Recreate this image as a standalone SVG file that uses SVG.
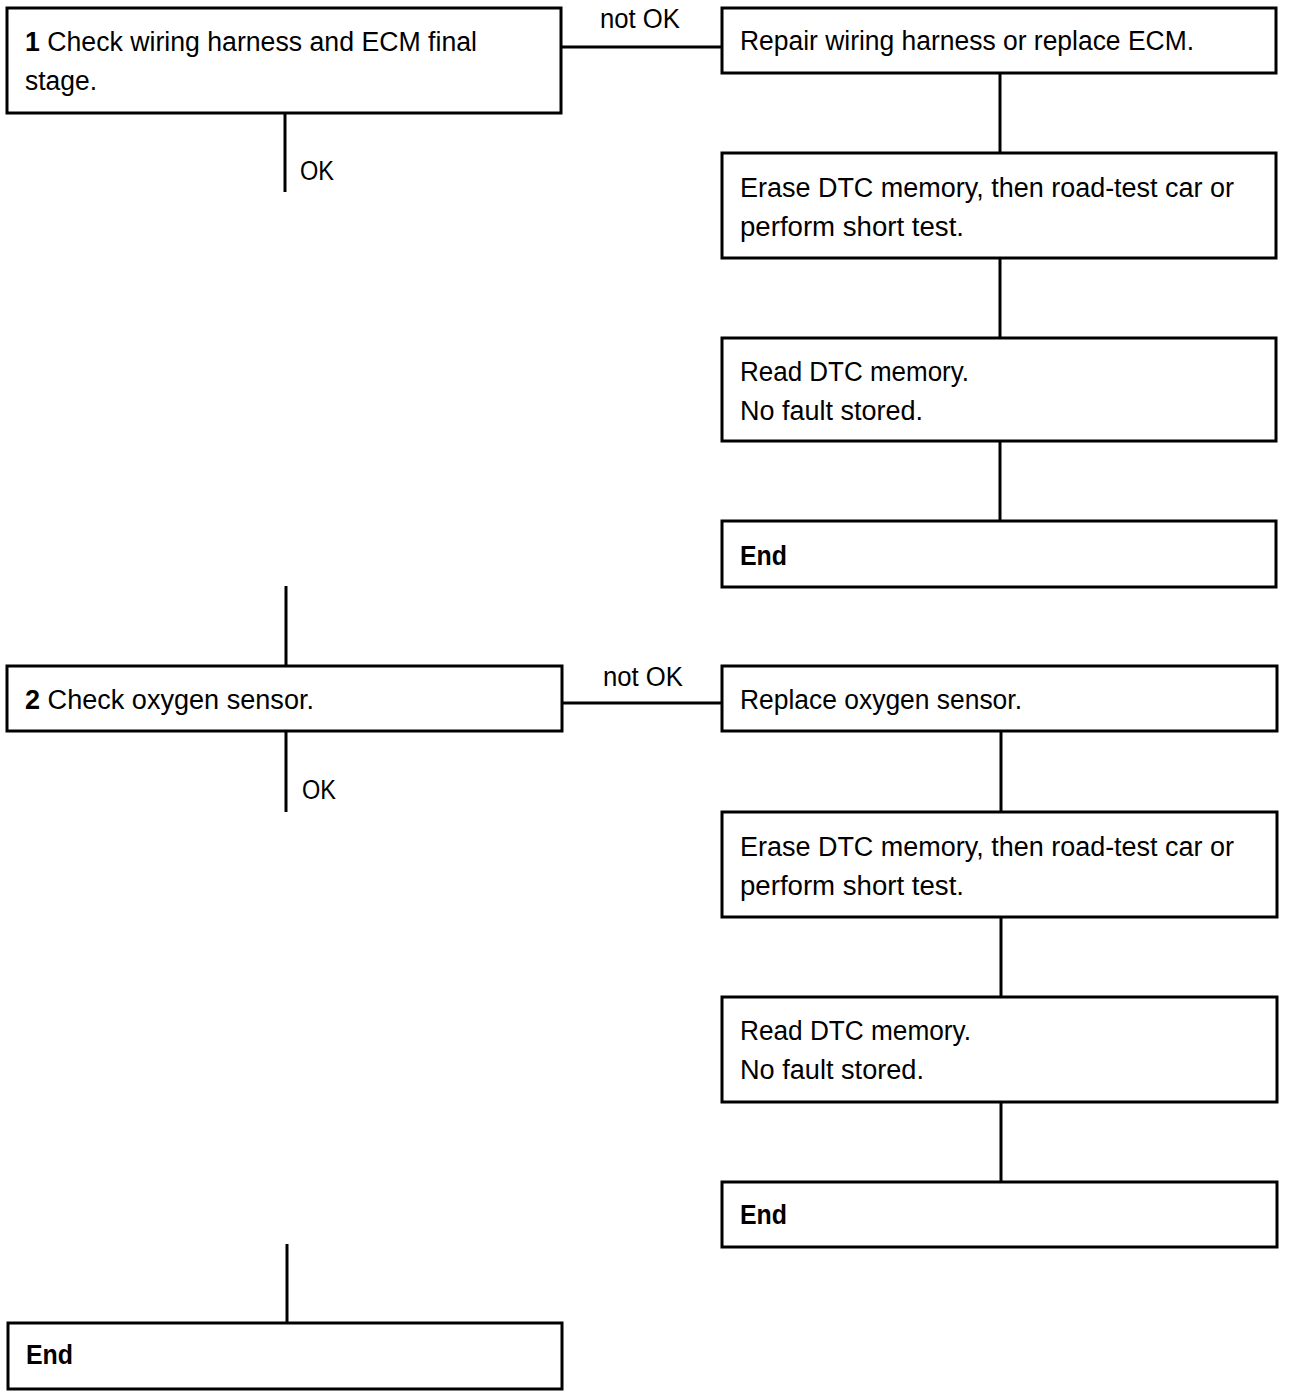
<svg xmlns="http://www.w3.org/2000/svg" width="1296" height="1396" viewBox="0 0 1296 1396">
<style>
.box{fill:#fff;stroke:#000;stroke-width:3}
.ln{stroke:#000;stroke-width:3;fill:none}
text{font-family:"Liberation Sans",Arial,sans-serif;font-size:27px;fill:#000}
.b{font-weight:bold}
</style>
<rect width="1296" height="1396" fill="#fff"/>
<g id="connectors">
<line class="ln" x1="285" y1="113" x2="285" y2="192"/>
<line class="ln" x1="561" y1="47" x2="722" y2="47"/>
<line class="ln" x1="1000" y1="73" x2="1000" y2="153"/>
<line class="ln" x1="1000" y1="258" x2="1000" y2="338"/>
<line class="ln" x1="1000" y1="441" x2="1000" y2="521"/>
<line class="ln" x1="286" y1="586" x2="286" y2="666"/>
<line class="ln" x1="562" y1="703" x2="722" y2="703"/>
<line class="ln" x1="1001" y1="731" x2="1001" y2="812"/>
<line class="ln" x1="1001" y1="917" x2="1001" y2="997"/>
<line class="ln" x1="1001" y1="1102" x2="1001" y2="1182"/>
<line class="ln" x1="286" y1="731" x2="286" y2="812"/>
<line class="ln" x1="287" y1="1244" x2="287" y2="1323"/>
<text x="600" y="28" textLength="80" lengthAdjust="spacingAndGlyphs">not OK</text>
<text x="300" y="180" textLength="34" lengthAdjust="spacingAndGlyphs">OK</text>
<text x="603" y="686" textLength="80" lengthAdjust="spacingAndGlyphs">not OK</text>
<text x="302" y="799" textLength="34" lengthAdjust="spacingAndGlyphs">OK</text>
</g>
<g id="n1">
<rect class="box" x="7" y="8" width="554" height="105"/>
<text x="25" y="51" textLength="452" lengthAdjust="spacingAndGlyphs"><tspan class="b">1</tspan> Check wiring harness and ECM final</text>
<text x="25" y="90" textLength="72" lengthAdjust="spacingAndGlyphs">stage.</text>
</g>
<g id="n1a">
<rect class="box" x="722" y="8" width="554" height="65"/>
<text x="740" y="50" textLength="454" lengthAdjust="spacingAndGlyphs">Repair wiring harness or replace ECM.</text>
</g>
<g id="n1b">
<rect class="box" x="722" y="153" width="554" height="105"/>
<text x="740" y="197" textLength="494" lengthAdjust="spacingAndGlyphs">Erase DTC memory, then road-test car or</text>
<text x="740" y="236" textLength="224" lengthAdjust="spacingAndGlyphs">perform short test.</text>
</g>
<g id="n1c">
<rect class="box" x="722" y="338" width="554" height="103"/>
<text x="740" y="381" textLength="229" lengthAdjust="spacingAndGlyphs">Read DTC memory.</text>
<text x="740" y="420" textLength="183" lengthAdjust="spacingAndGlyphs">No fault stored.</text>
</g>
<g id="n1d">
<rect class="box" x="722" y="521" width="554" height="66"/>
<text class="b" x="740" y="565" textLength="47" lengthAdjust="spacingAndGlyphs">End</text>
</g>
<g id="n2">
<rect class="box" x="7" y="666" width="555" height="65"/>
<text x="25" y="709" textLength="289" lengthAdjust="spacingAndGlyphs"><tspan class="b">2</tspan> Check oxygen sensor.</text>
</g>
<g id="n2a">
<rect class="box" x="722" y="666" width="555" height="65"/>
<text x="740" y="709" textLength="282" lengthAdjust="spacingAndGlyphs">Replace oxygen sensor.</text>
</g>
<g id="n2b">
<rect class="box" x="722" y="812" width="555" height="105"/>
<text x="740" y="856" textLength="494" lengthAdjust="spacingAndGlyphs">Erase DTC memory, then road-test car or</text>
<text x="740" y="895" textLength="224" lengthAdjust="spacingAndGlyphs">perform short test.</text>
</g>
<g id="n2c">
<rect class="box" x="722" y="997" width="555" height="105"/>
<text x="740" y="1040" textLength="231" lengthAdjust="spacingAndGlyphs">Read DTC memory.</text>
<text x="740" y="1079" textLength="184" lengthAdjust="spacingAndGlyphs">No fault stored.</text>
</g>
<g id="n2d">
<rect class="box" x="722" y="1182" width="555" height="65"/>
<text class="b" x="740" y="1224" textLength="47" lengthAdjust="spacingAndGlyphs">End</text>
</g>
<g id="n3">
<rect class="box" x="8" y="1323" width="554" height="66"/>
<text class="b" x="26" y="1364" textLength="47" lengthAdjust="spacingAndGlyphs">End</text>
</g>
</svg>
